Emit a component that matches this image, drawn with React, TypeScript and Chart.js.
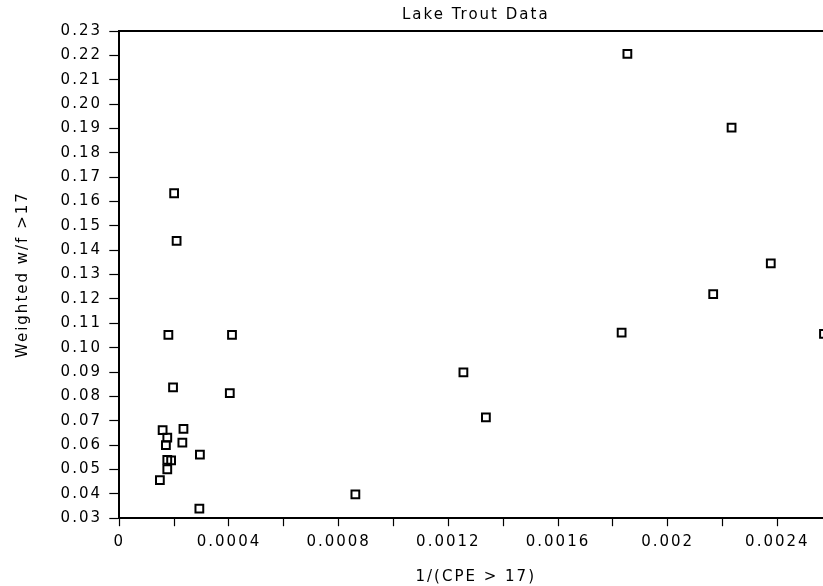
import React, { useEffect, useRef } from "react";
import { Chart, registerables } from "chart.js";

Chart.register(...registerables);

const chartTitle = "Lake Trout Data";
const xAxisTitle = "1/(CPE > 17)";
const yAxisTitle = "Weighted w/f >17";

const xValues = [
  0.001853, 0.002233, 0.002376, 0.002166, 0.001832, 0.00257, 0.001255, 0.001337,
  0.000861, 0.0002, 0.000209, 0.000179, 0.000411, 0.000196, 0.000403, 0.000158,
  0.000234, 0.000175, 0.00017, 0.00023, 0.000294, 0.000175, 0.000189, 0.000175,
  0.000148, 0.000292,
];
const yValues = [
  0.2206, 0.1903, 0.1346, 0.122, 0.1062, 0.1057, 0.0899, 0.0714,
  0.0398, 0.1634, 0.1438, 0.1053, 0.1053, 0.0837, 0.0813, 0.0662,
  0.0667, 0.0631, 0.06, 0.061, 0.0561, 0.0539, 0.0537, 0.0501,
  0.0456, 0.0339,
];

const xTickLabels = ["0", "0.0004", "0.0008", "0.0012", "0.0016", "0.002", "0.0024"];
const yTickLabels = [
  "0.03", "0.04", "0.05", "0.06", "0.07", "0.08", "0.09", "0.10", "0.11", "0.12",
  "0.13", "0.14", "0.15", "0.16", "0.17", "0.18", "0.19", "0.20", "0.21", "0.22", "0.23",
];

const FONT = "'DejaVu Sans', sans-serif";
const SPACING = "2px";

const letterSpacingPlugin = {
  id: "letterSpacing",
  beforeUpdate(chart: any) {
    chart.ctx.letterSpacing = SPACING;
  },
  beforeDraw(chart: any) {
    chart.ctx.letterSpacing = SPACING;
  },
};

const frameTopPlugin = {
  id: "frameTop",
  beforeDatasetsDraw(chart: any) {
    const { ctx, chartArea } = chart;
    ctx.save();
    ctx.strokeStyle = "#000";
    ctx.lineWidth = 2;
    ctx.beginPath();
    ctx.moveTo(chartArea.left, chartArea.top);
    ctx.lineTo(chartArea.right, chartArea.top);
    ctx.stroke();
    ctx.restore();
  },
};

export default function App() {
  const canvasRef = useRef<HTMLCanvasElement | null>(null);

  useEffect(() => {
    const canvas = canvasRef.current;
    if (!canvas) return;
    const points = xValues.map((x, i) => ({ x, y: yValues[i] }));
    const chart = new Chart(canvas, {
      type: "scatter",
      data: {
        datasets: [
          {
            data: points,
            pointStyle: "rect",
            pointRadius: 5.5,
            pointBorderWidth: 2,
            pointBorderColor: "#000",
            pointBackgroundColor: "rgba(0,0,0,0)",
          },
        ],
      },
      options: {
        responsive: false,
        animation: false,
        events: [],
        layout: { padding: { left: 0, right: 7.8, top: 0, bottom: 0 } },
        plugins: {
          legend: { display: false },
          tooltip: { enabled: false },
          title: {
            display: true,
            text: chartTitle,
            fullSize: false,
            color: "#000",
            font: { family: FONT, size: 15, weight: "normal", lineHeight: 1.2 },
            padding: { top: 6.5, bottom: 6.5 },
          },
        },
        scales: {
          x: {
            type: "linear",
            position: "bottom",
            min: 0,
            max: 0.0026,
            afterFit(scale: any) {
              scale.height = 67.8;
            },
            border: { display: true, color: "#000", width: 2 },
            grid: {
              display: true,
              drawOnChartArea: false,
              drawTicks: true,
              tickLength: 8,
              tickWidth: 1.2,
              tickColor: "#000",
            },
            ticks: {
              stepSize: 0.0002,
              autoSkip: false,
              maxRotation: 0,
              padding: 6.5,
              color: "#000",
              font: { family: FONT, size: 15, lineHeight: 1.2 },
              callback: (_v: any, i: number) => (i % 2 === 0 ? xTickLabels[i / 2] ?? "" : ""),
            },
            title: {
              display: true,
              text: xAxisTitle,
              color: "#000",
              font: { family: FONT, size: 15, lineHeight: 1.2 },
              padding: { top: 0, bottom: 0 },
            },
          },
          y: {
            type: "linear",
            position: "left",
            min: 0.03,
            max: 0.23,
            afterFit(scale: any) {
              scale.width = 119.3;
            },
            border: { display: true, color: "#000", width: 2 },
            grid: {
              display: true,
              drawOnChartArea: false,
              drawTicks: true,
              tickLength: 10,
              tickWidth: 1.2,
              tickColor: "#000",
            },
            ticks: {
              stepSize: 0.01,
              autoSkip: false,
              padding: 7.3,
              color: "#000",
              font: { family: FONT, size: 15, lineHeight: 1.2 },
              callback: (_v: any, i: number) => yTickLabels[i] ?? "",
            },
            title: {
              display: true,
              text: yAxisTitle,
              color: "#000",
              font: { family: FONT, size: 15, lineHeight: 1.2 },
              padding: { top: 14, bottom: 0 },
            },
          },
        },
      },
      plugins: [letterSpacingPlugin, frameTopPlugin],
    } as any);
    return () => chart.destroy();
  }, []);

  return (
    <div
      style={{
        position: "fixed",
        left: 0,
        top: 0,
        width: 823,
        height: 586,
        overflow: "hidden",
        background: "#fff",
      }}
    >
      <canvas ref={canvasRef} width={840} height={586} style={{ display: "block" }} />
    </div>
  );
}
